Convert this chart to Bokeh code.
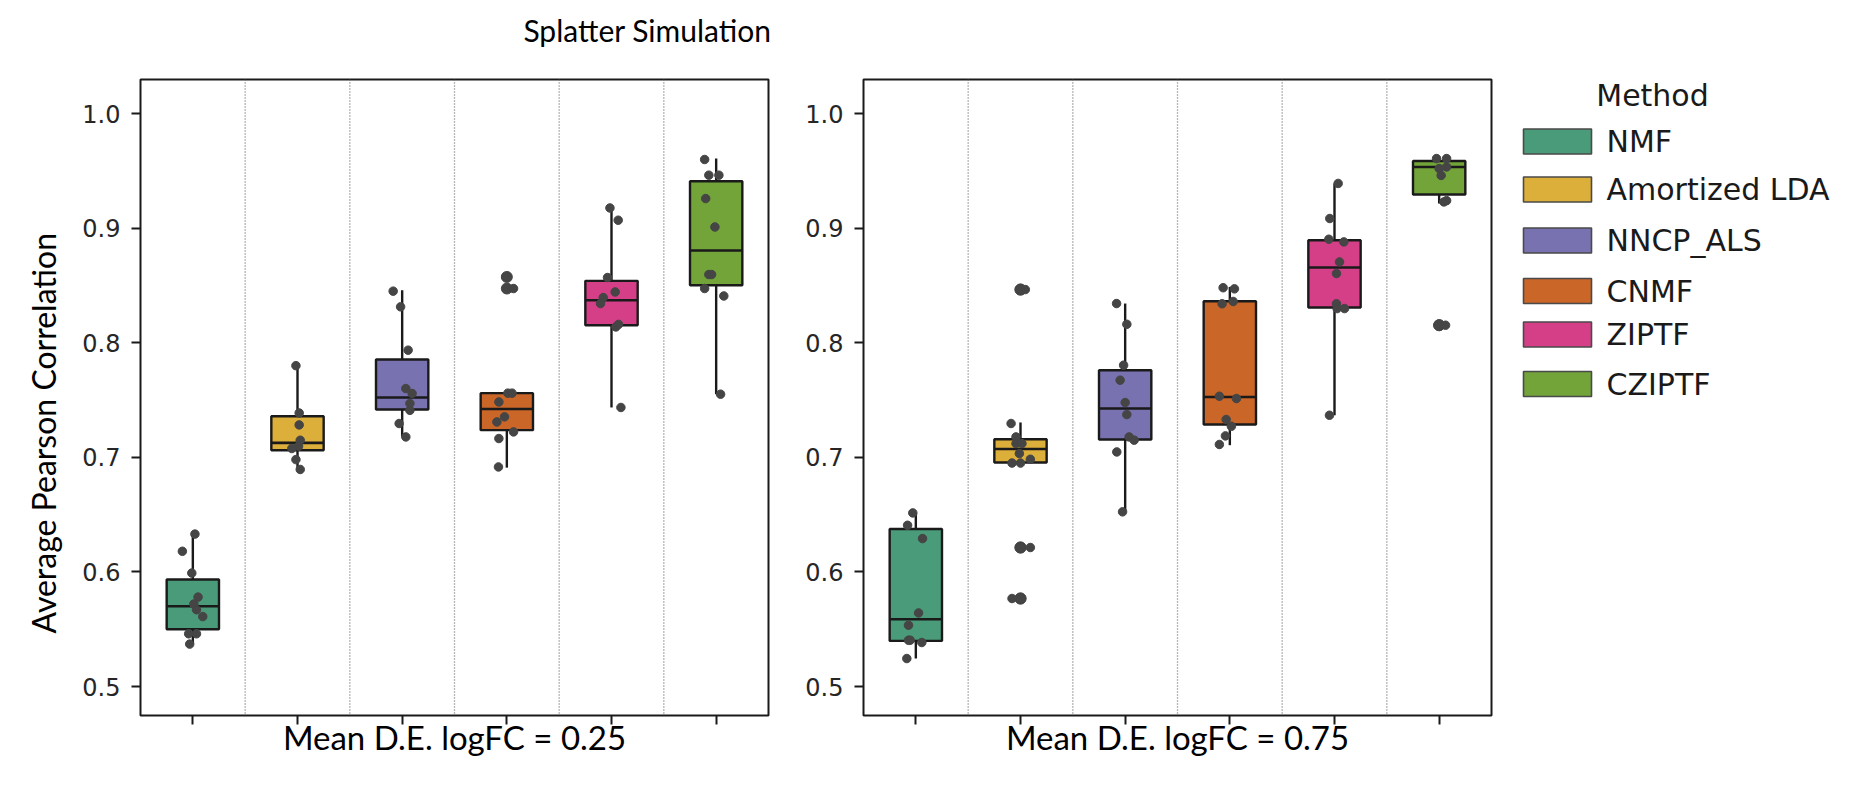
from bokeh.plotting import figure
from bokeh.layouts import row, column
from bokeh.models import Range1d, FixedTicker, Span, Title, NumeralTickFormatter
from bokeh.embed import file_html
from bokeh.resources import INLINE
from bokeh.core.properties import value

# ---------------- data ----------------
methods = ["NMF", "Amortized LDA", "NNCP_ALS", "CNMF", "ZIPTF", "CZIPTF"]
colors = ["#4a9b7a", "#dcae3a", "#7872b0", "#c96628", "#d43f88", "#72a43a"]
panel_labels = ["Mean D.E. logFC = 0.25", "Mean D.E. logFC = 0.75"]
title_text = "Splatter Simulation"
y_label = "Average Pearson Correlation"
legend_title = "Method"
y_ticks = [0.5, 0.6, 0.7, 0.8, 0.9, 1.0]

# box statistics, logFC = 0.25
q1_025 = [0.550, 0.7062, 0.7417, 0.7237, 0.8153, 0.8502]
med_025 = [0.570, 0.7126, 0.7522, 0.7422, 0.837, 0.8805]
q3_025 = [0.5934, 0.7359, 0.7853, 0.756, 0.854, 0.9409]
lo_025 = [0.537, 0.6894, 0.7178, 0.691, 0.7435, 0.7551]
hi_025 = [0.633, 0.780, 0.8458, 0.756, 0.9176, 0.9607]

# box statistics, logFC = 0.75
q1_075 = [0.5398, 0.6955, 0.7155, 0.7286, 0.8307, 0.9293]
med_075 = [0.5587, 0.7073, 0.7426, 0.7527, 0.8656, 0.9534]
q3_075 = [0.6375, 0.7158, 0.776, 0.8362, 0.8894, 0.9586]
lo_075 = [0.5244, 0.6955, 0.6524, 0.7106, 0.7367, 0.9215]
hi_075 = [0.651, 0.7304, 0.8342, 0.8487, 0.9389, 0.9607]

# individual runs (strip points) and their horizontal jitter (category units)
pts_025 = [
    [0.633, 0.618, 0.599, 0.578, 0.572, 0.567, 0.561, 0.546, 0.546, 0.537],
    [0.780, 0.7387, 0.7283, 0.7149, 0.7097, 0.7077, 0.698, 0.6894],
    [0.845, 0.8313, 0.7935, 0.760, 0.7557, 0.747, 0.741, 0.7295, 0.7178],
    [0.8574, 0.8473, 0.756, 0.756, 0.7483, 0.7353, 0.7309, 0.7222, 0.7164, 0.6916],
    [0.9176, 0.9069, 0.8569, 0.8443, 0.8394, 0.8342, 0.8138, 0.816, 0.7435],
    [0.9599, 0.9462, 0.9462, 0.9258, 0.901, 0.8595, 0.8595, 0.8473, 0.8408, 0.7551],
]
jit_025 = [
    [0.02, -0.10, -0.01, 0.05, 0.01, 0.035, 0.095, -0.04, 0.035, -0.03],
    [-0.015, 0.016, 0.016, 0.026, 0.01, -0.054, -0.015, 0.026],
    [-0.086, -0.015, 0.057, 0.035, 0.095, 0.074, 0.074, -0.029, 0.035],
    [-0.006, 0.064, 0.01, 0.05, -0.076, -0.022, -0.095, 0.064, -0.076, -0.08],
    [-0.015, 0.064, -0.038, 0.035, -0.079, -0.105, 0.042, 0.067, 0.09],
    [-0.11, -0.07, 0.026, -0.1, -0.012, -0.07, -0.044, -0.11, 0.073, 0.042],
]
pts_075 = [
    [0.6515, 0.6407, 0.6291, 0.5642, 0.5535, 0.5404, 0.5404, 0.5384, 0.5244],
    [0.8464, 0.8464, 0.7295, 0.7178, 0.712, 0.712, 0.7033, 0.6983, 0.695, 0.695,
     0.6213, 0.6213, 0.5768, 0.5768],
    [0.8342, 0.8161, 0.7804, 0.7673, 0.7478, 0.7373, 0.7178, 0.715, 0.7047, 0.6524],
    [0.848, 0.847, 0.834, 0.836, 0.7533, 0.7513, 0.733, 0.7271, 0.7187, 0.7112],
    [0.939, 0.9084, 0.8903, 0.888, 0.8705, 0.8604, 0.834, 0.8298, 0.8298, 0.7367],
    [0.9607, 0.9607, 0.952, 0.9534, 0.946, 0.9229, 0.924, 0.8153, 0.8153],
]
jit_075 = [
    [-0.029, -0.079, 0.064, 0.026, -0.07, -0.07, -0.054, 0.057, -0.086],
    [0.0, 0.046, -0.09, -0.043, -0.043, 0.014, -0.011, 0.094, -0.081, 0.0,
     0.0, 0.094, 0.0, -0.081],
    [-0.082, 0.016, -0.015, -0.048, 0.0, 0.016, 0.038, 0.086, -0.08, -0.025],
    [-0.064, 0.044, -0.074, 0.032, -0.1, 0.063, -0.035, 0.015, -0.042, -0.1],
    [0.035, -0.045, -0.054, 0.089, 0.048, 0.019, 0.019, 0.025, 0.096, -0.048],
    [-0.025, 0.071, 0.0, 0.071, 0.019, 0.045, 0.071, 0.0, 0.061],
]

# ---------------- styling / layout (page pixels) ----------------
LABEL_FONT = "Lato"
TICK_FONT = "DejaVu Sans"
INK = "#1a1a1a"
POINT = "#454545"
Y0, Y1 = 0.4747, 1.0297
PAGE_W, PAGE_H = 1865, 790
HEAD = 77                 # height of the strip holding the main title
FRAME_TOP, FRAME_BOT = 79, 715
FRAME_W = 628
PH = PAGE_H - HEAD        # height of the panel row
BTOP = FRAME_TOP - HEAD
BBOT = PAGE_H - FRAME_BOT


def make_panel(q1, med, q3, lo, hi, pts, jit, xlabel, width, left, with_ylabel):
    n = len(methods)
    p = figure(width=width, height=PH, x_range=Range1d(-0.5, n - 0.5),
               y_range=Range1d(Y0, Y1), output_backend="svg", toolbar_location=None,
               min_border_left=left, min_border_right=2, min_border_top=BTOP,
               min_border_bottom=BBOT)
    p.xgrid.visible = False
    p.ygrid.visible = False
    p.outline_line_color = INK
    p.outline_line_width = 2
    p.background_fill_color = "white"
    p.border_fill_color = "white"

    for k in range(n - 1):
        p.add_layout(Span(location=k + 0.5, dimension="height", line_color="#6e6e6e",
                          line_dash="1 2", line_width=1.3))

    xs = list(range(n))
    p.segment(x0=xs, y0=q3, x1=xs, y1=hi, line_color=INK, line_width=2.4)
    p.segment(x0=xs, y0=lo, x1=xs, y1=q1, line_color=INK, line_width=2.4)
    p.vbar(x=xs, width=0.5, bottom=q1, top=q3, fill_color=colors, line_color=INK,
           line_width=2.4)
    p.segment(x0=[x - 0.25 for x in xs], y0=med, x1=[x + 0.25 for x in xs], y1=med,
              line_color=INK, line_width=2.6)

    # fliers (values beyond whiskers) at the category centre
    fx, fy = [], []
    for i, vals in enumerate(pts):
        for v in vals:
            if v > hi[i] + 0.01 or v < lo[i] - 0.01:
                fx.append(i)
                fy.append(v)
    if fx:
        p.scatter(x=fx, y=fy, size=11, color=POINT)

    px, py = [], []
    for i, vals in enumerate(pts):
        for v, j in zip(vals, jit[i]):
            px.append(i + j)
            py.append(v)
    p.scatter(x=px, y=py, size=8.5, color=POINT)

    # x axis: ticks without labels, panel caption as axis label
    p.xaxis.ticker = FixedTicker(ticks=xs)
    p.xaxis.major_label_overrides = {x: "" for x in xs}
    p.xaxis.major_label_text_font_size = "1px"
    p.xaxis.major_label_standoff = 0
    p.xaxis.axis_label = xlabel
    p.xaxis.axis_label_text_font = LABEL_FONT
    p.xaxis.axis_label_text_font_size = "33px"
    p.xaxis.axis_label_text_font_style = "normal"
    p.xaxis.axis_label_text_color = "black"
    p.xaxis.axis_label_standoff = -8

    # y axis
    p.yaxis.ticker = FixedTicker(ticks=y_ticks)
    p.yaxis.formatter = NumeralTickFormatter(format="0.0")
    p.yaxis.major_label_text_font = TICK_FONT
    p.yaxis.major_label_text_font_size = "24px"
    p.yaxis.major_label_text_color = "#262626"
    p.yaxis.major_label_standoff = 11

    for ax in (p.xaxis[0], p.yaxis[0]):
        ax.axis_line_color = None
        ax.major_tick_in = 0
        ax.major_tick_out = 9
        ax.major_tick_line_width = 2
        ax.major_tick_line_color = INK
        ax.minor_tick_line_color = None

    if with_ylabel:
        # rotated caption, shifted down along the axis as in the picture
        p.add_layout(Title(text=y_label, align="left", offset=82,
                           text_font=LABEL_FONT, text_font_size="32px",
                           text_font_style="normal", text_color="black",
                           standoff=34), "left")
    return p


W1 = 140 + FRAME_W + 2
W2 = 93 + FRAME_W + 2
LW = PAGE_W - W1 - W2

f1 = make_panel(q1_025, med_025, q3_025, lo_025, hi_025, pts_025, jit_025,
                panel_labels[0], W1, 140, True)
f2 = make_panel(q1_075, med_075, q3_075, lo_075, hi_075, pts_075, jit_075,
                panel_labels[1], W2, 93, False)

# legend panel (its data coordinates are page pixels)
f3 = figure(width=LW, height=PH, x_range=Range1d(W1 + W2, PAGE_W),
            y_range=Range1d(FRAME_BOT, FRAME_TOP),
            x_axis_type=None, y_axis_type=None, output_backend="svg",
            toolbar_location=None, min_border_left=0, min_border_right=0,
            min_border_top=BTOP, min_border_bottom=BBOT)
f3.xgrid.visible = False
f3.ygrid.visible = False
f3.outline_line_color = None
rows_y = [141, 189, 240, 290.5, 334, 383.5]
n = len(methods)
f3.quad(left=[1523] * n, right=[1591] * n,
        top=[y - 12.5 for y in rows_y], bottom=[y + 12.5 for y in rows_y],
        fill_color=colors, line_color="#4a4a4a", line_width=1.6)
f3.text(x=[1606] * n, y=rows_y, text=methods,
        text_font=value(TICK_FONT), text_font_size="30px", text_baseline="middle",
        text_color="#1a1a1a")
f3.text(x=[1652], y=[95], text=[legend_title], text_font=value(TICK_FONT),
        text_font_size="30px", text_baseline="middle", text_align="center",
        text_color="#1a1a1a")

# title strip (its data coordinates are page pixels)
ft = figure(width=PAGE_W, height=HEAD, x_range=Range1d(0, PAGE_W),
            y_range=Range1d(HEAD, 0), x_axis_type=None, y_axis_type=None,
            output_backend="svg", toolbar_location=None, min_border=0)
ft.xgrid.visible = False
ft.ygrid.visible = False
ft.outline_line_color = None
ft.text(x=[647], y=[29], text=[title_text], text_font=value(LABEL_FONT),
        text_font_size="30px", text_baseline="middle", text_align="center",
        text_color="black")

layout = column(ft, row(f1, f2, f3))
open("out.html", "w").write(file_html(layout, INLINE))
